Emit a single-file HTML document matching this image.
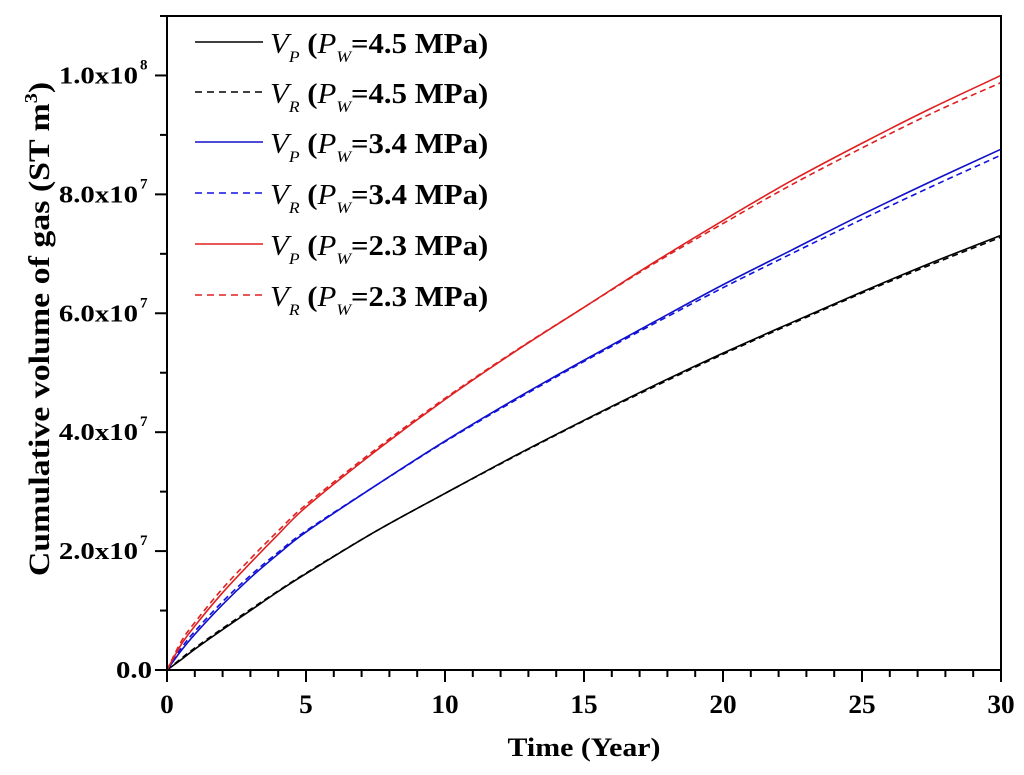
<!DOCTYPE html>
<html><head><meta charset="utf-8"><style>
body{margin:0;background:#fff}
svg{display:block;font-family:"Liberation Serif",serif}
</style></head><body>
<svg id="chart" width="1024" height="775" viewBox="0 0 1024 775">
<g id="marks"></g>
<g id="axes"></g>
<g id="legend"></g>
</svg>
<script>
const years = [0,0.5,1,2,3,4,5,7.5,10,12.5,15,17.5,20,22.5,25,27.5,30];
const vpHigh = [0,0.17,0.35,0.68,1.0,1.32,1.62,2.33,2.97,3.6,4.2,4.78,5.33,5.85,6.36,6.85,7.31];
const vrHigh = [0,0.19,0.37,0.7,1.02,1.33,1.63,2.33,2.97,3.59,4.19,4.76,5.31,5.83,6.34,6.82,7.28];
const vpMid = [0,0.32,0.6,1.1,1.55,1.95,2.32,3.1,3.85,4.55,5.21,5.85,6.48,7.07,7.66,8.22,8.76];
const vrMid = [0,0.36,0.65,1.15,1.59,1.98,2.34,3.1,3.84,4.53,5.19,5.82,6.43,7.01,7.58,8.13,8.66];
const vpLow = [0,0.42,0.74,1.3,1.8,2.28,2.74,3.68,4.55,5.35,6.1,6.85,7.56,8.24,8.86,9.45,10.0];
const vrLow = [0,0.47,0.8,1.37,1.87,2.34,2.78,3.71,4.57,5.36,6.1,6.83,7.51,8.17,8.78,9.36,9.88];
const xTicks = [0,5,10,15,20,25,30];
const yTicks = [0,2,4,6,8,10];
const yTickLabels = ["0.0","2.0x10","4.0x10","6.0x10","8.0x10","1.0x10"];
const yTickExp = ["","7","7","7","7","8"];
const legendMain = ["4.5","4.5","3.4","3.4","2.3","2.3"];

const X0=167,X1=1001,Y0=670,Y1=16;
const xs=t=>X0+(t/30)*(X1-X0);
const ys=v=>Y0-(v/11)*(Y0-Y1);
const NS="http://www.w3.org/2000/svg";
function mk(tag,attrs,parent){const e=document.createElementNS(NS,tag);for(const k in attrs)e.setAttribute(k,attrs[k]);parent.appendChild(e);return e;}
const marks=document.getElementById('marks'),axes=document.getElementById('axes'),legend=document.getElementById('legend');

function smoothPath(vals){
  const p=years.map((t,i)=>[xs(t),ys(vals[i])]);
  let d="M"+p[0][0]+","+p[0][1];
  for(let i=0;i<p.length-1;i++){
    const p0=p[Math.max(0,i-1)],p1=p[i],p2=p[i+1],p3=p[Math.min(p.length-1,i+2)];
    const c1=[p1[0]+(p2[0]-p0[0])/6,p1[1]+(p2[1]-p0[1])/6];
    const c2=[p2[0]-(p3[0]-p1[0])/6,p2[1]-(p3[1]-p1[1])/6];
    d+=" C"+c1+" "+c2+" "+p2;
  }
  return d;
}
const series=[
 {v:vpHigh,c:"#000",dash:null,n:"vp-4-5-line"},
 {v:vrHigh,c:"#000",dash:"6,4",n:"vr-4-5-line"},
 {v:vpMid,c:"#1010c8",dash:null,n:"vp-3-4-line"},
 {v:vrMid,c:"#1010e0",dash:"6,4",n:"vr-3-4-line"},
 {v:vpLow,c:"#e02020",dash:null,n:"vp-2-3-line"},
 {v:vrLow,c:"#e02020",dash:"6,4",n:"vr-2-3-line"}
];
series.forEach(s=>{
  const e=mk('path',{d:smoothPath(s.v),fill:"none",stroke:s.c,"stroke-width":1.6},marks);
  if(s.dash)e.setAttribute('stroke-dasharray',s.dash);
  
  
});

const fr=mk('rect',{x:X0,y:Y1,width:X1-X0,height:Y0-Y1,fill:"none",stroke:"#000","stroke-width":2},axes);


for(let t=0;t<=30;t++){
  const major=t%5===0;
  mk('line',{x1:xs(t),x2:xs(t),y1:Y0,y2:Y0+(major?12:7),stroke:"#000","stroke-width":2},axes);
}
xTicks.forEach(t=>{
  const tx=mk('text',{transform:"translate("+xs(t)+",713) scale(1.05,1)","font-size":26,"font-weight":"bold","text-anchor":"middle"},axes);
  tx.textContent=t;
  
  
});
for(let v=0;v<=11;v++){
  const major=v%2===0;
  mk('line',{x1:X0,x2:X0-(major?12:7),y1:ys(v),y2:ys(v),stroke:"#000","stroke-width":2},axes);
}
yTicks.forEach((v,i)=>{
  const tx=mk('text',{transform:"translate("+(yTickExp[i]?138:152)+","+(ys(v)+8)+") scale(1.2,1)","font-size":24,"font-weight":"bold","text-anchor":"end"},axes);
  tx.textContent=yTickLabels[i];
  
  
  if(yTickExp[i]){
    const ex=mk('text',{x:140,y:ys(v)-6,"font-size":15,"font-weight":"bold"},axes);
    ex.textContent=yTickExp[i];
    
    
  }
});
const xt=mk('text',{transform:"translate(584,756) scale(1.15,1)","font-size":26,"font-weight":"bold","text-anchor":"middle"},axes);
xt.textContent="Time (Year)";


const yt=mk('text',{transform:"translate(49,329) rotate(-90) scale(1.13,1)","font-size":30,"font-weight":"bold","text-anchor":"middle"},axes);
yt.innerHTML='Cumulative volume of gas (ST m<tspan font-size="18" dy="-12">3</tspan><tspan dy="12">)</tspan>';



const legY=[42,92,142,193,244,295];
series.forEach((s,i)=>{
  const y=legY[i];
  const ln=mk('line',{x1:195,x2:263,y1:y,y2:y,stroke:s.c,"stroke-width":1.6},legend);
  if(s.dash)ln.setAttribute('stroke-dasharray',"7,5");
  
  
  const sub=(i%2===0)?"P":"R";
  const tx=mk('text',{transform:"translate(270,"+(y+11)+") scale(1.1,1)","font-size":28},legend);
  tx.innerHTML='<tspan font-style="italic">V</tspan><tspan font-style="italic" font-size="16" dy="9">'+sub+'</tspan><tspan dy="-9" font-weight="bold"> (</tspan><tspan font-style="italic">P</tspan><tspan font-style="italic" font-size="16" dy="9">W</tspan><tspan dy="-9" font-weight="bold">='+legendMain[i]+' MPa)</tspan>';
  
  
});
</script>
</body></html>
